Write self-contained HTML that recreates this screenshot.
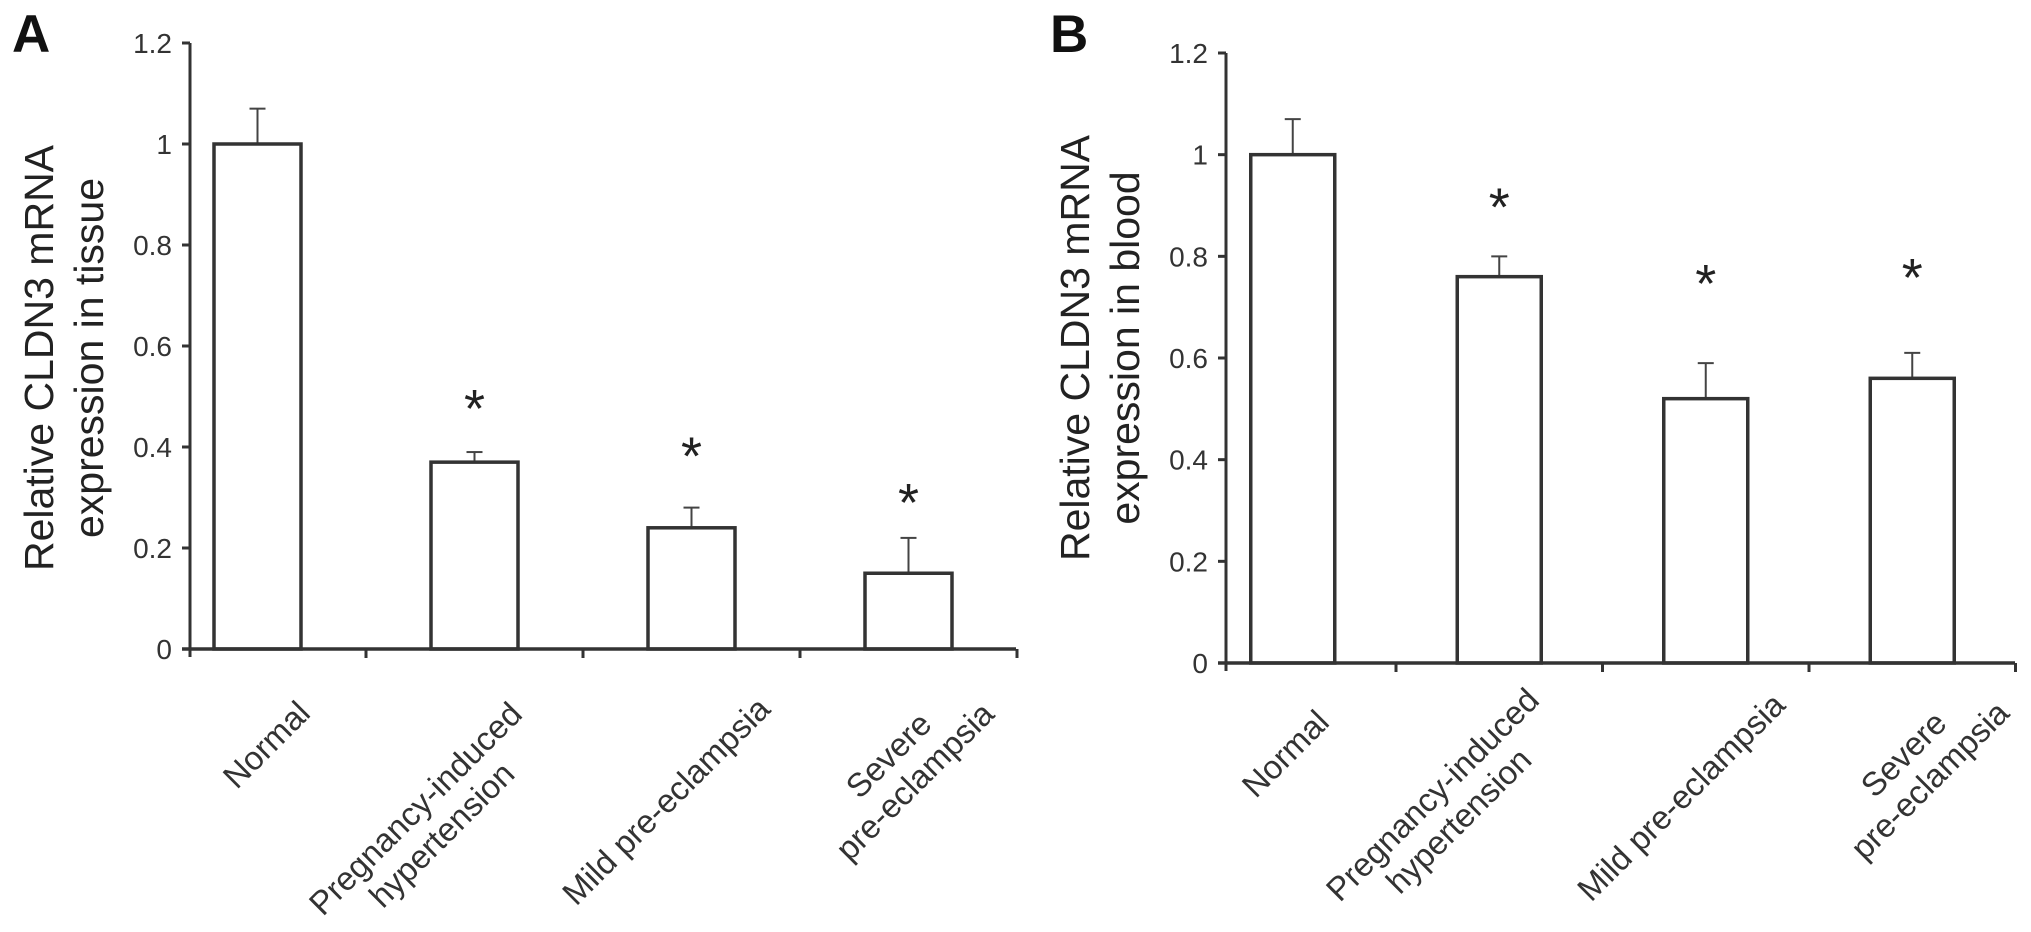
<!DOCTYPE html>
<html><head><meta charset="utf-8"><style>
html,body{margin:0;padding:0;background:#fff;}
svg{display:block;font-family:"Liberation Sans",Arial,sans-serif;}
</style></head><body>
<svg id="chart" width="2031" height="932" viewBox="0 0 2031 932" xmlns="http://www.w3.org/2000/svg"></svg>
<script>
// ---- data ----
const categories = [["Normal"],["Pregnancy-induced","hypertension"],["Mild pre-eclampsia"],["Severe","pre-eclampsia"]];
const tissueMeans = [1.0, 0.37, 0.24, 0.15];
const tissueErrors = [0.07, 0.02, 0.04, 0.07];
const tissueSig = [false, true, true, true];
const bloodMeans = [1.0, 0.76, 0.52, 0.56];
const bloodErrors = [0.07, 0.04, 0.07, 0.05];
const bloodSig = [false, true, true, true];
const yTicks = [0, 0.2, 0.4, 0.6, 0.8, 1, 1.2];
const yTickLabels = ["0","0.2","0.4","0.6","0.8","1","1.2"];

const NS = "http://www.w3.org/2000/svg";
const svg = document.getElementById("chart");
function mk(tag, attrs, parent){
  const e = document.createElementNS(NS, tag);
  for (const k in attrs) e.setAttribute(k, attrs[k]);
  (parent||svg).appendChild(e);
  return e;
}

const panels = [
  {id:"a", letter:"A", letterX:12, title:["Relative CLDN3 mRNA","expression in tissue"], titleX:53, titleY:358,
   means:tissueMeans, errs:tissueErrors, sig:tissueSig,
   axisX:190, axisEnd:1016, y0:649, yTop:43, firstTick:366, band:217, barW:87, starOff:[48,56,64,48],
   labelEnds:[[312,715],[524,716],[772,711],[996,716]]},
  {id:"b", letter:"B", letterX:1050, title:["Relative CLDN3 mRNA","expression in blood"], titleX:1089, titleY:348,
   means:bloodMeans, errs:bloodErrors, sig:bloodSig,
   axisX:1226, axisEnd:2015, y0:663, yTop:53, firstTick:1396, band:206.5, barW:84, starOff:[58,62,92,88],
   labelEnds:[[1331,724],[1541,702],[1787,707],[2011,715]]}
];

panels.forEach(p => {
  const g = mk("g", {});
  
  
  const yScale = v => p.y0 - v / 1.2 * (p.y0 - p.yTop);
  const xCenter = i => p.firstTick - p.band / 2 + i * p.band;

  const letter = mk("text", {x:p.letterX, y:52, "font-size":53, "font-weight":"bold", fill:"#111"}, g);
  letter.textContent = p.letter;
  
  

  const t = mk("text", {transform:`translate(${p.titleX},${p.titleY}) rotate(-90)`, "font-size":41, fill:"#222", "text-anchor":"middle"}, g);
  
  
  p.title.forEach((ln, k) => {
    const ts = mk("tspan", {x:0, y:k*50}, t);
    ts.textContent = ln;
  });

  p.means.forEach((v, i) => {
    const cx = xCenter(i);
    const top = yScale(v);
    const errTop = yScale(v + p.errs[i]);
    const el = mk("line", {x1:cx, y1:top, x2:cx, y2:errTop, stroke:"#444", "stroke-width":2}, g);
    
    
    const cap = mk("line", {x1:cx-8, y1:errTop, x2:cx+8, y2:errTop, stroke:"#444", "stroke-width":2}, g);
    
    
    const r = mk("rect", {x:cx - p.barW/2, y:top, width:p.barW, height:p.y0 - top, fill:"#fff", stroke:"#333", "stroke-width":3.5}, g);
    
    
    if (p.sig[i]) {
      const s = mk("text", {x:cx, y:errTop - p.starOff[i] + 31, "font-size":54, "text-anchor":"middle", fill:"#222"}, g);
      s.textContent = "*";
      
      
    }
  });

  const ya = mk("line", {x1:p.axisX, y1:p.yTop, x2:p.axisX, y2:p.y0 + 8, stroke:"#333", "stroke-width":3}, g);
  
  
  const xa = mk("line", {x1:p.axisX - 8, y1:p.y0, x2:p.axisEnd, y2:p.y0, stroke:"#333", "stroke-width":3.5}, g);
  
  

  yTicks.forEach((v, k) => {
    const y = yScale(v);
    const tk = mk("line", {x1:p.axisX - 8, y1:y, x2:p.axisX, y2:y, stroke:"#333", "stroke-width":3}, g);
    
    
    const lb = mk("text", {x:p.axisX - 18, y:y + 10, "font-size":28, "text-anchor":"end", fill:"#333"}, g);
    lb.textContent = yTickLabels[k];
    
    
  });

  categories.forEach((c, i) => {
    const tx = p.firstTick + i * p.band;
    const xt = mk("line", {x1:tx, y1:p.y0, x2:tx, y2:p.y0 + 9, stroke:"#333", "stroke-width":3}, g);
    
    

    const [ex, ey] = p.labelEnds[i];
    const lg = mk("text", {transform:`translate(${ex},${ey}) rotate(-45)`, "font-size":33, fill:"#333", "text-anchor":"middle"}, g);
    
    
    const spans = c.map((ln, k) => { const ts = mk("tspan", {x:0, y:0}, lg); ts.textContent = ln; return ts; });
    let maxL = 0, idx = 0;
    spans.forEach((s, k) => { const L = s.getComputedTextLength(); if (L > maxL) { maxL = L; idx = k; } });
    spans.forEach((s, k) => { s.setAttribute("x", -maxL/2); s.setAttribute("y", (k - idx) * 37); });
  });
});
</script>
</body></html>
